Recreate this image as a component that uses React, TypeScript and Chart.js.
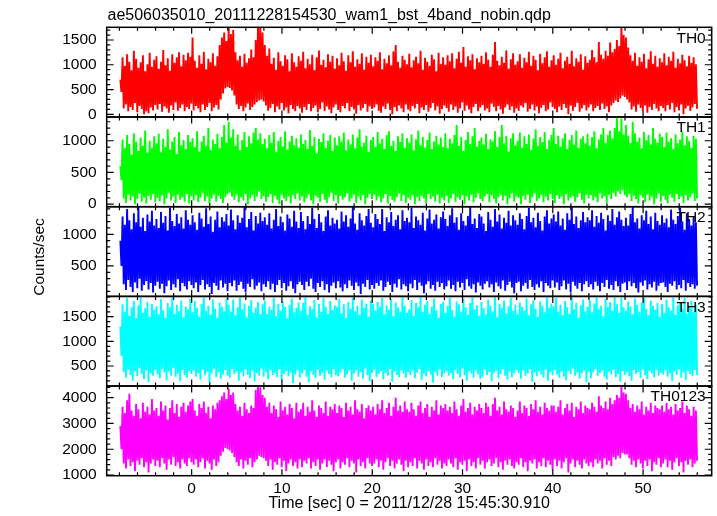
import { useEffect, useRef } from "react";
import { Chart, registerables } from "chart.js";

Chart.register(...registerables);
Chart.defaults.font.family = '"Liberation Sans", Arial, Helvetica, sans-serif';
Chart.defaults.color = "#000";

// ---------- data ----------
const TITLE = "ae506035010_20111228154530_wam1_bst_4band_nobin.qdp";
const X_TITLE = "Time [sec] 0 = 2011/12/28 15:45:30.910";
const Y_TITLE = "Counts/sec";
const PANEL_NAMES = ["TH0", "TH1", "TH2", "TH3", "TH0123"];

// each bin (0.25 s) carries its highest and lowest count rate
const BIN_START = -7.9;
const BIN_STEP = 0.25;

const X_MIN = -9.41;
const X_MAX = 57.6;
const X_TICKS = [0, 10, 20, 30, 40, 50];

const TH0_YTICKS = [0, 500, 1000, 1500];
const TH1_YTICKS = [0, 500, 1000];
const TH2_YTICKS = [500, 1000];
const TH3_YTICKS = [500, 1000, 1500];
const TH0123_YTICKS = [1000, 2000, 3000, 4000];

const TH0_HI = [
  700, 1150, 980, 1210, 1060, 890, 1280, 1120, 940, 1050, 1190, 870, 1010, 1240, 960, 1100,
  1170, 920, 1060, 1300, 990, 1130, 880, 1210, 1040, 1150, 1250, 970, 1200, 1090, 1240, 1160,
  1550, 1080, 940, 1190, 1020, 1260, 910, 1120, 1050, 1230, 980, 1170, 1400, 1550, 1650, 1480,
  1750, 1620, 1700, 1250, 1090, 1180, 960, 1220, 1040, 1130, 1310, 1150, 1500, 1800, 1800, 1650,
  1400, 1180, 1330, 1020, 1140, 900, 1250, 1070, 980, 1190, 1110, 870, 1230, 1050, 960, 1170,
  1080, 1260, 930, 1120, 1010, 1200, 890, 1150, 1290, 1000, 1100, 950, 1210, 1060, 1180, 920,
  1130, 990, 1240, 1070, 880, 1190, 1050, 1270, 960, 1110, 1020, 1230, 900, 1160, 1040, 1200,
  970, 1150, 1080, 1250, 910, 1120, 1030, 1190, 990, 1270, 1400, 1060, 940, 1180, 1100, 1010,
  1220, 950, 1090, 1160, 1030, 1280, 900, 1140, 1060, 980, 1200, 1110, 870, 1240, 1020, 1150,
  1000, 1190, 1070, 1230, 930, 1120, 1260, 1040, 1360, 960, 1170, 1090, 1210, 910, 1130, 1050,
  1180, 1020, 1250, 1100, 960, 1200, 1460, 1080, 990, 1160, 1040, 1290, 920, 1110, 1230, 1000,
  1070, 1210, 940, 1140, 1050, 1260, 980, 1180, 1100, 890, 1220, 1030, 1150, 1270, 960, 1090,
  1190, 1000, 1120, 1240, 930, 1080, 1160, 1020, 1280, 970, 1130, 1060, 1210, 900, 1170, 1040,
  1100, 1300, 1150, 1050, 1460, 1200, 1120, 1280, 1180, 1450, 1250, 1320, 1500, 1380, 1800, 1600,
  1550, 1350, 1190, 1080, 1240, 980, 1150, 1060, 1220, 930, 1110, 1270, 1020, 1180, 960, 1130,
  1050, 1230, 990, 1160, 1080, 1260, 940, 1120, 1030, 1200, 1090, 970, 1180, 1040, 1150, 1010,
];
const TH0_LO = [
  450, 120, 200, 60, 150, 90, 230, 40, 170, 110, 0, 60, 20, 140, 80, 190,
  100, 210, 50, 160, 120, 30, 180, 90, 240, 70, 130, 200, 60, 150, 110, 220,
  80, 170, 120, 40, 200, 90, 150, 230, 60, 140, 190, 100, 300, 420, 520, 550,
  530, 480, 380, 200, 110, 170, 60, 140, 220, 90, 150, 200, 250, 280, 300, 260,
  180, 70, 130, 210, 40, 160, 100, 230, 80, 140, 20, 190, 110, 60, 170, 120,
  30, 150, 90, 210, 60, 130, 180, 40, 110, 240, 70, 160, 100, 20, 140, 200,
  90, 40, 170, 120, 230, 60, 150, 100, 10, 190, 80, 130, 210, 50, 160, 110,
  140, 200, 70, 30, 160, 110, 220, 90, 0, 150, 60, 180, 120, 40, 200, 100,
  60, 170, 120, 210, 20, 140, 90, 190, 50, 130, 230, 80, 160, 10, 110, 180,
  130, 50, 200, 90, 160, 30, 120, 240, 70, 180, 100, 20, 150, 210, 60, 140,
  190, 80, 120, 40, 220, 150, 60, 170, 100, 10, 140, 200, 90, 160, 30, 120,
  70, 180, 140, 230, 50, 110, 200, 80, 160, 20, 130, 190, 60, 100, 240, 150,
  110, 40, 160, 90, 210, 130, 0, 180, 70, 150, 230, 50, 120, 190, 80, 140,
  200, 60, 130, 170, 90, 220, 110, 160, 40, 180, 230, 280, 250, 320, 380, 350,
  300, 240, 100, 160, 50, 200, 130, 70, 180, 30, 150, 90, 210, 120, 60, 170,
  130, 60, 190, 100, 230, 40, 150, 80, 200, 0, 120, 170, 70, 140, 210, 110,
];

const TH1_HI = [
  600, 1020, 880, 1090, 950, 780, 1120, 990, 840, 1050, 920, 1160, 810, 1000, 890, 1070,
  960, 1110, 820, 1030, 900, 1180, 860, 990, 1060, 790, 1140, 930, 1010, 870, 1090, 980,
  1040, 900, 1150, 830, 990, 1080, 920, 1200, 860, 1020, 950, 1110, 880, 1060, 1250, 970,
  1300, 1050, 1180, 920, 1100, 850, 1010, 1140, 900, 1070, 960, 1130, 1200, 1020, 1120, 950,
  1030, 880, 1090, 970, 1140, 820, 1000, 1060, 910, 1150, 860, 990, 1080, 930, 1040, 890,
  1100, 950, 1010, 870, 1170, 920, 1060, 800, 1030, 980, 1120, 890, 1000, 1090, 840, 1050,
  930, 1070, 990, 1130, 850, 1020, 940, 1100, 880, 1050, 1180, 910, 970, 1080, 820, 1010,
  1060, 900, 1140, 960, 1030, 870, 1090, 1150, 920, 1000, 840, 1070, 980, 1120, 890, 1040,
  970, 1100, 850, 1020, 1160, 930, 1060, 890, 1010, 1130, 870, 990, 1080, 940, 1050, 900,
  1120, 880, 1030, 960, 1090, 1250, 920, 1060, 840, 1010, 1140, 950, 1070, 1200, 910, 1000,
  1050, 940, 1110, 870, 1020, 990, 1150, 900, 1060, 1250, 960, 1080, 830, 1040, 1120, 930,
  1000, 1130, 890, 1070, 950, 1100, 860, 1030, 1180, 920, 1060, 980, 1140, 870, 1010, 1090,
  1200, 950, 1080, 910, 1040, 1120, 870, 1010, 1090, 940, 1160, 890, 1030, 1070, 960, 1110,
  920, 1060, 1150, 880, 1020, 1100, 1200, 970, 1090, 1160, 1040, 1200, 1380, 1150, 1350, 1100,
  1250, 1080, 960, 1300, 1120, 990, 1050, 880, 1140, 1010, 1090, 940, 1200, 1030, 970, 1110,
  1060, 900, 1130, 990, 1040, 870, 1100, 960, 1020, 1150, 930, 1070, 1000, 890, 1080, 1030,
];
const TH1_LO = [
  380, 90, 20, 150, 60, 120, 0, 80, 170, 40, 110, 10, 130, 70, 160, 30,
  100, 50, 140, 0, 90, 180, 60, 120, 20, 150, 70, 110, 40, 160, 10, 130,
  60, 140, 30, 100, 170, 50, 120, 0, 90, 150, 40, 130, 80, 20, 110, 160,
  180, 120, 70, 150, 30, 110, 60, 160, 0, 90, 140, 50, 120, 200, 80, 130,
  40, 110, 160, 20, 130, 70, 0, 150, 90, 50, 120, 10, 140, 80, 170, 60,
  120, 30, 90, 150, 60, 0, 130, 100, 40, 160, 70, 20, 110, 180, 50, 140,
  10, 130, 70, 110, 170, 40, 90, 150, 20, 120, 60, 140, 0, 100, 160, 80,
  150, 60, 120, 30, 90, 160, 10, 130, 70, 40, 110, 170, 50, 140, 20, 100,
  70, 140, 0, 110, 50, 130, 90, 20, 160, 80, 120, 40, 150, 10, 100, 60,
  130, 20, 90, 160, 40, 110, 70, 140, 0, 120, 60, 150, 30, 100, 170, 80,
  50, 120, 160, 30, 140, 80, 10, 110, 150, 60, 130, 0, 90, 170, 40, 120,
  100, 0, 130, 70, 150, 20, 110, 170, 50, 90, 140, 30, 120, 60, 160, 80,
  20, 140, 80, 120, 0, 160, 60, 100, 130, 40, 110, 170, 70, 10, 150, 90,
  140, 60, 110, 30, 170, 90, 130, 20, 150, 80, 180, 120, 200, 160, 220, 140,
  110, 160, 50, 130, 80, 10, 140, 100, 30, 150, 60, 120, 0, 90, 170, 40,
  130, 70, 10, 150, 100, 40, 160, 80, 120, 20, 140, 60, 110, 170, 50, 90,
];

const TH2_HI = [
  900, 1280, 1150, 1400, 1220, 1080, 1330, 1190, 1430, 1120, 1260, 1050, 1310, 1200, 1370, 1140,
  1240, 1100, 1350, 1180, 1290, 1060, 1420, 1210, 1130, 1320, 1170, 1270, 1090, 1380, 1230, 1150,
  1300, 1190, 1070, 1340, 1250, 1120, 1410, 1160, 1280, 1040, 1230, 1360, 1110, 1270, 1200, 1320,
  1140, 1390, 1220, 1080, 1300, 1180, 1260, 1430, 1110, 1240, 1350, 1060, 1290, 1170, 1340, 1210,
  1270, 1150, 1330, 1090, 1230, 1400, 1130, 1280, 1190, 1060, 1310, 1250, 1120, 1370, 1200, 1100,
  1350, 1210, 1080, 1290, 1160, 1420, 1240, 1100, 1320, 1190, 1050, 1280, 1380, 1140, 1260, 1170,
  1230, 1090, 1360, 1200, 1300, 1120, 1250, 1430, 1170, 1070, 1330, 1220, 1140, 1290, 1400, 1180,
  1110, 1320, 1240, 1160, 1400, 1050, 1270, 1190, 1350, 1130, 1230, 1300, 1080, 1380, 1210, 1260,
  1190, 1420, 1100, 1280, 1220, 1150, 1340, 1060, 1250, 1390, 1170, 1230, 1310, 1090, 1270, 1360,
  1240, 1130, 1300, 1410, 1180, 1270, 1070, 1330, 1210, 1140, 1290, 1430, 1160, 1250, 1100, 1320,
  1280, 1170, 1050, 1350, 1230, 1120, 1400, 1200, 1310, 1090, 1260, 1180, 1370, 1140, 1300, 1220,
  1150, 1330, 1240, 1080, 1290, 1420, 1190, 1260, 1110, 1340, 1210, 1060, 1280, 1380, 1170, 1250,
  1310, 1200, 1360, 1140, 1250, 1070, 1330, 1230, 1430, 1160, 1280, 1100, 1220, 1350, 1190, 1270,
  1220, 1380, 1120, 1290, 1180, 1340, 1240, 1060, 1300, 1210, 1400, 1150, 1270, 1360, 1230, 1130,
  1260, 1140, 1320, 1430, 1190, 1250, 1090, 1300, 1220, 1370, 1160, 1280, 1080, 1340, 1210, 1150,
  1300, 1180, 1250, 1110, 1390, 1230, 1160, 1290, 1420, 1200, 1070, 1330, 1240, 1140, 1280, 1190,
];
const TH2_LO = [
  500, 210, 120, 280, 170, 90, 240, 150, 300, 110, 200, 260, 130, 230, 80, 190,
  250, 140, 220, 70, 180, 270, 120, 210, 160, 290, 100, 230, 180, 130, 260, 200,
  150, 240, 90, 200, 280, 130, 210, 170, 60, 230, 190, 120, 270, 160, 220, 100,
  230, 180, 270, 110, 200, 250, 140, 80, 220, 170, 290, 130, 190, 240, 100, 210,
  170, 260, 130, 220, 90, 200, 280, 150, 230, 110, 180, 260, 140, 70, 210, 250,
  200, 120, 250, 180, 300, 140, 90, 230, 170, 260, 120, 210, 80, 190, 240, 150,
  260, 160, 100, 210, 150, 270, 190, 120, 240, 180, 60, 220, 170, 280, 130, 200,
  140, 230, 190, 270, 110, 170, 250, 200, 90, 220, 160, 290, 130, 210, 180, 100,
  220, 150, 280, 120, 240, 190, 70, 210, 260, 140, 200, 110, 250, 170, 230, 130,
  180, 270, 140, 200, 100, 250, 160, 230, 120, 290, 180, 140, 210, 80, 240, 190,
  130, 220, 260, 160, 210, 90, 240, 180, 140, 270, 110, 200, 250, 160, 70, 230,
  250, 100, 190, 230, 140, 280, 170, 120, 210, 160, 260, 90, 230, 190, 150, 270,
  160, 240, 120, 180, 270, 130, 220, 80, 250, 190, 140, 230, 100, 210, 260, 170,
  210, 130, 250, 190, 100, 230, 170, 280, 140, 200, 120, 260, 180, 90, 220, 240,
  120, 260, 180, 230, 150, 80, 240, 190, 270, 130, 210, 160, 250, 110, 190, 230,
  240, 170, 90, 220, 190, 260, 130, 200, 150, 280, 110, 230, 170, 210, 140, 190,
];

const TH3_HI = [
  1300, 1750, 1600, 1880, 1520, 1690, 1820, 1470, 1730, 1900, 1580, 1670, 1800, 1500, 1760, 1640,
  1710, 1550, 1860, 1630, 1480, 1780, 1690, 1910, 1560, 1740, 1610, 1830, 1490, 1700, 1650, 1870,
  1590, 1820, 1680, 1500, 1760, 1900, 1620, 1720, 1540, 1850, 1660, 1480, 1790, 1700, 1610, 1880,
  1740, 1600, 1850, 1530, 1690, 1910, 1650, 1770, 1490, 1720, 1840, 1580, 1680, 1800, 1550, 1750,
  1830, 1560, 1700, 1640, 1890, 1510, 1760, 1620, 1810, 1700, 1470, 1740, 1870, 1590, 1680, 1790,
  1620, 1780, 1900, 1530, 1710, 1650, 1840, 1490, 1760, 1600, 1880, 1700, 1560, 1820, 1640, 1730,
  1690, 1860, 1570, 1750, 1480, 1800, 1660, 1910, 1610, 1720, 1540, 1850, 1680, 1770, 1500, 1830,
  1760, 1620, 1800, 1700, 1880, 1550, 1730, 1640, 1860, 1510, 1790, 1690, 1600, 1900, 1720, 1580,
  1650, 1840, 1520, 1780, 1690, 1910, 1600, 1740, 1820, 1560, 1700, 1870, 1630, 1480, 1760, 1800,
  1580, 1720, 1890, 1640, 1500, 1810, 1750, 1600, 1870, 1690, 1540, 1780, 1900, 1650, 1730, 1520,
  1800, 1670, 1550, 1850, 1720, 1610, 1900, 1490, 1760, 1680, 1830, 1570, 1710, 1880, 1620, 1740,
  1560, 1790, 1700, 1620, 1870, 1530, 1750, 1840, 1660, 1500, 1810, 1720, 1590, 1900, 1680, 1770,
  1710, 1880, 1600, 1740, 1530, 1820, 1690, 1560, 1910, 1650, 1780, 1480, 1730, 1850, 1610, 1700,
  1840, 1590, 1770, 1900, 1660, 1720, 1510, 1860, 1700, 1800, 1620, 1910, 1750, 1580, 1880, 1690,
  1620, 1810, 1700, 1550, 1870, 1740, 1600, 1790, 1910, 1660, 1530, 1830, 1720, 1640, 1780, 1500,
  1760, 1580, 1850, 1690, 1620, 1900, 1540, 1730, 1800, 1650, 1880, 1570, 1710, 1820, 1600, 1740,
];
const TH3_LO = [
  700, 380, 260, 430, 310, 200, 400, 290, 450, 340, 230, 410, 170, 360, 300, 420,
  330, 250, 440, 370, 210, 390, 300, 460, 280, 350, 190, 420, 320, 260, 400, 340,
  410, 280, 360, 220, 430, 310, 390, 160, 350, 450, 270, 380, 240, 330, 420, 300,
  260, 440, 340, 390, 200, 370, 290, 430, 320, 250, 410, 180, 360, 300, 450, 280,
  380, 230, 420, 310, 360, 270, 440, 210, 340, 400, 290, 370, 150, 330, 410, 260,
  350, 420, 280, 170, 390, 320, 250, 430, 300, 360, 220, 410, 340, 270, 440, 310,
  290, 370, 440, 260, 330, 410, 200, 350, 420, 280, 380, 240, 450, 310, 190, 360,
  430, 270, 340, 400, 230, 360, 300, 440, 180, 390, 320, 270, 410, 350, 260, 380,
  320, 410, 250, 370, 440, 210, 340, 290, 400, 330, 160, 380, 300, 430, 270, 350,
  400, 300, 360, 230, 420, 340, 270, 450, 310, 200, 390, 350, 260, 410, 330, 240,
  280, 430, 320, 380, 190, 360, 410, 250, 340, 440, 300, 220, 390, 270, 350, 420,
  360, 240, 410, 300, 350, 440, 180, 370, 290, 400, 330, 260, 430, 200, 380, 310,
  420, 330, 260, 390, 280, 210, 400, 340, 450, 300, 370, 240, 350, 410, 170, 390,
  250, 380, 440, 300, 360, 410, 280, 220, 390, 330, 430, 270, 340, 180, 400, 320,
  370, 290, 200, 420, 340, 380, 260, 440, 310, 230, 400, 350, 270, 420, 300, 360,
  330, 410, 280, 350, 190, 390, 320, 430, 260, 370, 210, 400, 340, 290, 420, 310,
];

const TH0123_HI = [
  2900, 3650, 3400, 3900, 4150, 3500, 3300, 3750, 3550, 3200, 3800, 3450, 3650, 3350, 3950, 3500,
  3600, 3300, 3850, 3500, 3700, 3150, 3600, 3900, 3400, 3750, 3250, 3650, 3800, 3450, 3700, 3850,
  3950, 3500, 3300, 3750, 3600, 3850, 3400, 3650, 3200, 3700, 3550, 3800, 3900, 4050, 4200, 3950,
  4350, 4100, 4200, 3750, 3500, 3650, 3300, 3800, 3550, 3400, 3700, 3600, 4300, 4450, 4400, 4100,
  4000, 3650, 3800, 3400, 3700, 3550, 3250, 3850, 3500, 3650, 3350, 3750, 3600, 3200, 3800, 3450,
  3550, 3800, 3300, 3650, 3450, 3900, 3500, 3250, 3700, 3600, 3400, 3850, 3300, 3650, 3550, 3750,
  3400, 3700, 3600, 3250, 3800, 3500, 3650, 3350, 3900, 3550, 3450, 3750, 3200, 3600, 3700, 3500,
  3650, 3350, 3750, 3550, 3900, 3400, 3600, 3800, 3300, 3650, 4000, 3500, 3700, 3450, 3850, 3550,
  3450, 3800, 3550, 3300, 3700, 3850, 3400, 3600, 3750, 3250, 3650, 3500, 3900, 3350, 3700, 3600,
  3750, 3500, 3650, 3400, 3850, 3550, 3300, 3700, 3950, 3450, 3600, 3800, 3350, 3650, 3500, 3750,
  3600, 3400, 3800, 3650, 3300, 3750, 4000, 3500, 3650, 3350, 3850, 3550, 3450, 3700, 3600, 3250,
  3500, 3850, 3400, 3700, 3600, 3300, 3750, 3550, 3900, 3450, 3650, 3350, 3800, 3600, 3500, 3700,
  3700, 3450, 3650, 3900, 3350, 3600, 3750, 3500, 3800, 3250, 3650, 3550, 3850, 3400, 3700, 3600,
  3550, 3800, 3650, 3450, 4050, 3700, 3600, 3850, 3550, 4000, 3750, 3900, 4100, 4000, 4420, 4200,
  4150, 3900, 3600, 3750, 3450, 3700, 3550, 3850, 3350, 3650, 3500, 3800, 3400, 3700, 3600, 3550,
  3700, 3450, 3800, 3550, 3650, 3350, 3750, 3500, 3600, 3850, 3400, 3700, 3550, 3300, 3650, 3500,
];
const TH0123_LO = [
  2000, 1450, 1250, 1600, 1350, 1500, 1150, 1550, 1400, 1650, 1300, 1500, 1100, 1450, 1600, 1350,
  1550, 1300, 1650, 1450, 1200, 1600, 1400, 1700, 1350, 1500, 1250, 1600, 1450, 1350, 1650, 1500,
  1400, 1600, 1300, 1500, 1650, 1250, 1550, 1450, 1200, 1600, 1350, 1500, 1750, 1900, 2050, 2000,
  1950, 1850, 1700, 1500, 1350, 1600, 1250, 1550, 1400, 1650, 1300, 1500, 1600, 1750, 1700, 1650,
  1550, 1350, 1600, 1200, 1500, 1400, 1650, 1300, 1550, 1150, 1450, 1600, 1350, 1500, 1250, 1600,
  1300, 1550, 1450, 1650, 1250, 1500, 1350, 1600, 1200, 1450, 1600, 1300, 1550, 1400, 1150, 1500,
  1600, 1250, 1500, 1400, 1650, 1300, 1550, 1450, 1100, 1600, 1350, 1500, 1250, 1650, 1450, 1350,
  1450, 1600, 1300, 1550, 1200, 1500, 1650, 1350, 1550, 1250, 1450, 1600, 1400, 1150, 1550, 1300,
  1500, 1350, 1650, 1250, 1550, 1450, 1200, 1600, 1350, 1500, 1300, 1650, 1400, 1550, 1250, 1450,
  1350, 1600, 1450, 1300, 1650, 1200, 1500, 1400, 1550, 1150, 1600, 1350, 1500, 1250, 1650, 1400,
  1550, 1250, 1500, 1600, 1350, 1450, 1650, 1300, 1500, 1200, 1550, 1400, 1600, 1350, 1250, 1500,
  1400, 1650, 1300, 1500, 1150, 1550, 1450, 1600, 1250, 1500, 1350, 1650, 1300, 1550, 1400, 1200,
  1600, 1350, 1550, 1250, 1500, 1650, 1100, 1450, 1600, 1300, 1550, 1400, 1250, 1600, 1450, 1350,
  1500, 1300, 1600, 1450, 1550, 1250, 1650, 1400, 1550, 1350, 1700, 1600, 1750, 1650, 1850, 1800,
  1800, 1650, 1400, 1550, 1300, 1600, 1450, 1250, 1550, 1350, 1600, 1150, 1500, 1400, 1650, 1300,
  1450, 1600, 1300, 1550, 1200, 1500, 1650, 1350, 1500, 1100, 1550, 1400, 1600, 1300, 1450, 1550,
];

// ---------- layout / style ----------
const W = 717;
const H = 516;
const PLOT_LEFT = 106.7;
const PLOT_RIGHT = 711.7;
const TOPS = [27.3, 117.0, 206.7, 296.4, 386.0];
const BOTTOMS = [117.0, 206.7, 296.4, 386.0, 475.7];
const FONT = '"Liberation Sans", Arial, Helvetica, sans-serif';

const PANELS = [
  { name: PANEL_NAMES[0], rgb: "255,0,0", hi: TH0_HI, lo: TH0_LO, min: -54, max: 1756, ticks: TH0_YTICKS, minor: 100, major: 500 },
  { name: PANEL_NAMES[1], rgb: "0,255,0", hi: TH1_HI, lo: TH1_LO, min: -40, max: 1375, ticks: TH1_YTICKS, minor: 100, major: 500 },
  { name: PANEL_NAMES[2], rgb: "0,0,255", hi: TH2_HI, lo: TH2_LO, min: 20, max: 1435, ticks: TH2_YTICKS, minor: 100, major: 500 },
  { name: PANEL_NAMES[3], rgb: "0,255,255", hi: TH3_HI, lo: TH3_LO, min: 94, max: 1912, ticks: TH3_YTICKS, minor: 100, major: 500 },
  { name: PANEL_NAMES[4], rgb: "255,0,255", hi: TH0123_HI, lo: TH0123_LO, min: 973, max: 4453, ticks: TH0123_YTICKS, minor: 200, major: 1000 },
];

const isMult = (v: number, m: number) => Math.abs(v / m - Math.round(v / m)) < 1e-6;

const framePlugin = {
  id: "frame",
  afterDraw(chart: any, _args: any, opts: any) {
    const { ctx, chartArea: a, scales } = chart;
    const xs = scales.x;
    const ys = scales.y;
    const p = opts.panel;
    ctx.save();
    ctx.strokeStyle = "#000";
    ctx.lineWidth = 1.2;
    ctx.beginPath();
    for (let v = Math.ceil(ys.min / p.minor) * p.minor; v <= ys.max; v += p.minor) {
      const py = ys.getPixelForValue(v);
      const len = isMult(v, p.major) ? 7 : 3.5;
      ctx.moveTo(a.left, py);
      ctx.lineTo(a.left + len, py);
      ctx.moveTo(a.right, py);
      ctx.lineTo(a.right - len, py);
    }
    for (let t = Math.ceil(xs.min / 2) * 2; t <= xs.max; t += 2) {
      const px = xs.getPixelForValue(t);
      const len = isMult(t, 10) ? 6.5 : 3.5;
      ctx.moveTo(px, a.top);
      ctx.lineTo(px, a.top + len);
      ctx.moveTo(px, a.bottom);
      ctx.lineTo(px, a.bottom - len);
    }
    ctx.stroke();
    ctx.lineWidth = 1.5;
    ctx.strokeRect(a.left, a.top, a.right - a.left, a.bottom - a.top);

    ctx.fillStyle = "#000";
    ctx.font = `15.5px ${FONT}`;
    ctx.textAlign = "right";
    ctx.textBaseline = "middle";
    ctx.fillText(p.name, a.right - 6, a.top + 11);

    if (opts.first) {
      ctx.font = `16px ${FONT}`;
      ctx.textAlign = "left";
      ctx.textBaseline = "alphabetic";
      ctx.fillText(TITLE, 107.5, 20);
    }
    if (opts.last) {
      ctx.save();
      ctx.font = `15.5px ${FONT}`;
      ctx.translate(40, 257);
      ctx.rotate(-Math.PI / 2);
      ctx.textAlign = "center";
      ctx.textBaseline = "middle";
      ctx.fillText(Y_TITLE, 0, 0);
      ctx.restore();
    }
    ctx.restore();
  },
};

function buildConfig(p: any, i: number): any {
  const last = i === PANELS.length - 1;
  const pts: { x: number; y: number }[] = [];
  const n = Math.min(p.hi.length, p.lo.length);
  for (let k = 0; k < n; k++) {
    const t = BIN_START + k * BIN_STEP;
    pts.push({ x: t, y: p.hi[k] }, { x: t + BIN_STEP / 2, y: p.lo[k] });
  }

  return {
    type: "line",
    data: {
      datasets: [
        { data: pts, borderWidth: 1.9, borderColor: `rgb(${p.rgb})`, pointRadius: 0, fill: false, tension: 0, clip: 0 },
      ],
    },
    options: {
      responsive: false,
      animation: false,
      devicePixelRatio: 1,
      events: [],
      layout: {
        padding: { left: 0, right: W - PLOT_RIGHT, top: TOPS[i], bottom: last ? 0 : H - BOTTOMS[i] },
      },
      scales: {
        x: {
          type: "linear",
          min: X_MIN,
          max: X_MAX,
          display: last,
          afterBuildTicks: (s: any) => {
            s.ticks = X_TICKS.map((v) => ({ value: v }));
          },
          afterFit: (s: any) => {
            if (last) s.height = H - BOTTOMS[i];
          },
          grid: { display: false, drawTicks: false },
          border: { display: false },
          ticks: {
            autoSkip: false,
            maxRotation: 0,
            padding: 4,
            color: "#000",
            font: { size: 15.5 },
            callback: (v: any) => String(v),
          },
          title: {
            display: true,
            text: X_TITLE,
            color: "#000",
            font: { size: 16 },
            padding: { top: 0, bottom: 3 },
          },
        },
        y: {
          type: "linear",
          min: p.min,
          max: p.max,
          afterBuildTicks: (s: any) => {
            s.ticks = p.ticks.map((v: number) => ({ value: v }));
          },
          afterFit: (s: any) => {
            s.width = PLOT_LEFT;
          },
          grid: { display: false, drawTicks: false },
          border: { display: false },
          ticks: {
            autoSkip: false,
            padding: 10,
            color: "#000",
            font: { size: 15.5 },
            callback: (v: any) => String(v),
          },
        },
      },
      plugins: {
        legend: { display: false },
        tooltip: { enabled: false },
        frame: { panel: p, first: i === 0, last },
      },
    },
    plugins: [framePlugin],
  };
}

export default function App() {
  const refs = useRef<(HTMLCanvasElement | null)[]>([]);
  useEffect(() => {
    const charts = PANELS.map((p, i) => new Chart(refs.current[i] as HTMLCanvasElement, buildConfig(p, i)));
    return () => charts.forEach((c) => c.destroy());
  }, []);
  return (
    <div style={{ position: "fixed", left: 0, top: 0, width: W, height: H, background: "#fff" }}>
      {PANELS.map((p, i) => (
        <canvas
          key={p.name}
          ref={(el) => {
            refs.current[i] = el;
          }}
          width={W}
          height={H}
          style={{ position: "absolute", left: 0, top: 0, width: W, height: H }}
        />
      ))}
    </div>
  );
}
